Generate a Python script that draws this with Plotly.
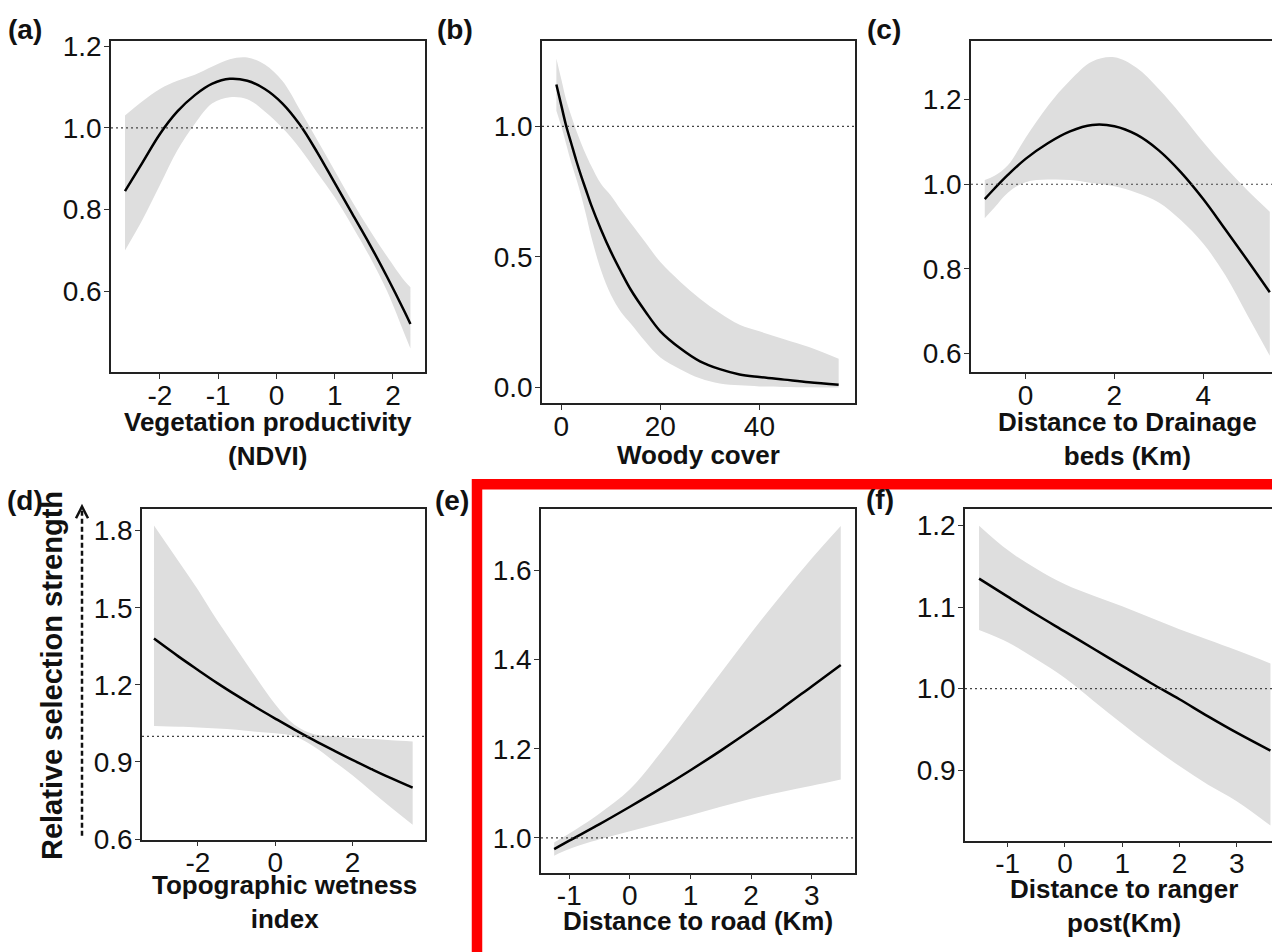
import plotly.graph_objects as go

# ---------------- data ----------------
a_x   = [-2.6, -2.3, -2.0, -1.7, -1.4, -1.1, -0.8, -0.5, -0.2, 0.1, 0.4, 0.7, 1.0, 1.3, 1.6, 1.9, 2.2, 2.3]
a_fit = [0.845, 0.915, 0.985, 1.04, 1.08, 1.108, 1.12, 1.115, 1.095, 1.06, 1.008, 0.94, 0.865, 0.79, 0.715, 0.635, 0.55, 0.52]
a_hi  = [1.03, 1.065, 1.095, 1.115, 1.13, 1.15, 1.168, 1.172, 1.155, 1.115, 1.045, 0.97, 0.895, 0.82, 0.75, 0.685, 0.625, 0.61]
a_lo  = [0.70, 0.775, 0.86, 0.945, 1.01, 1.06, 1.075, 1.07, 1.04, 1.0, 0.95, 0.89, 0.83, 0.76, 0.685, 0.60, 0.495, 0.46]

b_x   = [-1, 0, 1, 2, 3, 4, 5, 6, 8, 10, 12, 14, 17, 20, 24, 28, 32, 36, 40, 45, 50, 56]
b_fit = [1.16, 1.08, 1.0, 0.935, 0.87, 0.81, 0.755, 0.70, 0.605, 0.52, 0.445, 0.375, 0.29, 0.215,
         0.15, 0.10, 0.07, 0.05, 0.04, 0.03, 0.02, 0.01]
b_hi  = [1.26, 1.18, 1.10, 1.04, 0.985, 0.935, 0.89, 0.85, 0.78, 0.735, 0.68, 0.63, 0.555, 0.48,
         0.405, 0.34, 0.285, 0.24, 0.215, 0.185, 0.155, 0.11]
b_lo  = [1.06, 1.0, 0.93, 0.86, 0.80, 0.735, 0.66, 0.58, 0.45, 0.355, 0.29, 0.245, 0.175, 0.115,
         0.07, 0.035, 0.015, 0.008, 0.004, 0.002, 0.001, 0.0]

c_x   = [-0.92, -0.7, -0.4, 0.0, 0.5, 1.0, 1.5, 2.0, 2.5, 3.0, 3.5, 4.0, 4.5, 5.0, 5.5]
c_fit = [0.965, 0.99, 1.022, 1.06, 1.097, 1.125, 1.14, 1.137, 1.117, 1.08, 1.028, 0.965, 0.893, 0.82, 0.745]
c_hi  = [1.01, 1.02, 1.045, 1.11, 1.185, 1.245, 1.29, 1.30, 1.275, 1.225, 1.165, 1.10, 1.04, 0.985, 0.935]
c_lo  = [0.92, 0.945, 0.98, 1.005, 1.011, 1.01, 1.003, 0.995, 0.98, 0.957, 0.915, 0.86, 0.785, 0.69, 0.595]

d_x   = [-3.14, -2.5, -2.0, -1.5, -1.0, -0.5, 0.0, 0.5, 1.0, 1.5, 2.0, 2.5, 3.0, 3.56]
d_fit = [1.38, 1.31, 1.258, 1.207, 1.159, 1.113, 1.069, 1.026, 0.985, 0.946, 0.908, 0.872, 0.837, 0.80]
d_hi  = [1.82, 1.68, 1.57, 1.45, 1.34, 1.23, 1.125, 1.045, 1.008, 1.0, 0.993, 0.989, 0.985, 0.98]
d_lo  = [1.04, 1.037, 1.034, 1.03, 1.025, 1.018, 1.012, 1.0, 0.96, 0.905, 0.848, 0.785, 0.723, 0.656]

e_x   = [-1.25, -1, -0.5, 0, 0.5, 1, 1.5, 2, 2.5, 3, 3.48]
e_fit = [0.975, 0.994, 1.031, 1.07, 1.11, 1.152, 1.196, 1.242, 1.29, 1.34, 1.388]
e_hi  = [0.99, 1.01, 1.055, 1.109, 1.19, 1.28, 1.37, 1.46, 1.545, 1.627, 1.70]
e_lo  = [0.96, 0.975, 0.997, 1.015, 1.033, 1.051, 1.07, 1.088, 1.103, 1.117, 1.131]

f_x   = [-1.5, -1, -0.5, 0, 0.5, 1, 1.5, 2, 2.5, 3, 3.59]
f_fit = [1.135, 1.113, 1.091, 1.07, 1.049, 1.028, 1.007, 0.987, 0.966, 0.946, 0.924]
f_hi  = [1.20, 1.17, 1.147, 1.128, 1.114, 1.101, 1.087, 1.073, 1.06, 1.047, 1.031]
f_lo  = [1.072, 1.057, 1.036, 1.013, 0.985, 0.957, 0.93, 0.905, 0.882, 0.862, 0.832]

labels   = ["(a)", "(b)", "(c)", "(d)", "(e)", "(f)"]
x_titles = ["Vegetation productivity<br>(NDVI)", "Woody cover",
            "Distance to Drainage<br>beds (Km)", "Topographic wetness<br>index",
            "Distance to road (Km)", "Distance to ranger<br>post(Km)"]
y_title  = "Relative selection strength"

x_ticks = [[-2, -1, 0, 1, 2], [0, 20, 40], [0, 2, 4], [-2, 0, 2], [-1, 0, 1, 2, 3], [-1, 0, 1, 2, 3]]
y_ticks = [[0.6, 0.8, 1.0, 1.2], [0.0, 0.5, 1.0], [0.6, 0.8, 1.0, 1.2],
           [0.6, 0.9, 1.2, 1.5, 1.8], [1.0, 1.2, 1.4, 1.6], [0.9, 1.0, 1.1, 1.2]]
x_ranges = [[-2.84, 2.55], [-3.9, 59.3], [-1.23, 5.55], [-3.45, 3.88], [-1.467, 3.715], [-1.746, 3.617]]
y_ranges = [[0.402, 1.212], [-0.061, 1.326], [0.556, 1.338], [0.598, 1.886], [0.922, 1.739], [0.8136, 1.221]]
reference_level = 1.0

series = [(a_x, a_fit, a_hi, a_lo), (b_x, b_fit, b_hi, b_lo), (c_x, c_fit, c_hi, c_lo),
          (d_x, d_fit, d_hi, d_lo), (e_x, e_fit, e_hi, e_lo), (f_x, f_fit, f_hi, f_lo)]

# ---------------- layout geometry (pixels) ----------------
W, H = 1272, 952
boxes = [(111, 425, 32, 372), (542, 855, 32, 404), (971, 1272, 32, 372),
         (142, 425, 512, 852), (541, 855, 512, 886), (965, 1272, 512, 853)]
cut_right = [False, False, True, False, False, True]
label_pos = [(25, 20), (455, 20), (884, 20), (25, 504), (452, 504), (880, 503)]
title_pos = [(268, 441), (698, 457), (1127, 441), (284, 916), (698, 936), (1124, 920)]

def px(x):
    return x / W

def py(y):
    return 1 - y / H

FONT = "Liberation Sans, Arial, sans-serif"
BAND = "#dedede"
TXT = "#111111"

fig = go.Figure()
layout = {}
shapes = []
annotations = []

for i, (xs, fit, hi, lo) in enumerate(series):
    n = "" if i == 0 else str(i + 1)
    xa, ya = "x" + n, "y" + n
    fig.add_trace(go.Scatter(x=xs, y=lo, xaxis=xa, yaxis=ya, mode="lines",
                             line=dict(width=0, color=BAND, shape="spline", smoothing=1.0),
                             showlegend=False, hoverinfo="skip"))
    fig.add_trace(go.Scatter(x=xs, y=hi, xaxis=xa, yaxis=ya, mode="lines", fill="tonexty",
                             fillcolor=BAND,
                             line=dict(width=0, color=BAND, shape="spline", smoothing=1.0),
                             showlegend=False, hoverinfo="skip"))
    fig.add_trace(go.Scatter(x=xs, y=fit, xaxis=xa, yaxis=ya, mode="lines",
                             line=dict(width=2.5, color="black", shape="spline", smoothing=1.0),
                             showlegend=False))
    l, r, t, b = boxes[i]
    common = dict(showgrid=False, zeroline=False, showline=True, linecolor="#222",
                  linewidth=1.5, ticks="outside", ticklen=5, tickwidth=1.2, tickcolor="#333",
                  tickfont=dict(family=FONT, size=28, color=TXT))
    layout["xaxis" + n] = dict(domain=[px(l), px(r)], range=x_ranges[i], anchor=ya,
                               tickvals=x_ticks[i], ticktext=[str(v) for v in x_ticks[i]],
                               mirror=True, ticklabelstandoff=-8, **common)
    layout["yaxis" + n] = dict(domain=[py(b), py(t)], range=y_ranges[i], anchor=xa,
                               tickvals=y_ticks[i], ticktext=["%.1f" % v for v in y_ticks[i]],
                               mirror=not cut_right[i], ticklabelstandoff=-3, **common)
    shapes.append(dict(type="line", xref=xa + " domain", yref=ya, x0=0, x1=1,
                       y0=reference_level, y1=reference_level,
                       line=dict(color="#444", width=1.2, dash="2px,3px"), layer="above"))
    lx, ly = label_pos[i]
    annotations.append(dict(text="<b>%s</b>" % labels[i], x=px(lx), y=py(ly), xref="paper",
                            yref="paper", showarrow=False, xanchor="center", yanchor="middle",
                            font=dict(family=FONT, size=28, color=TXT)))
    tx, ty = title_pos[i]
    annotations.append(dict(text="<b>%s</b>" % x_titles[i], x=px(tx), y=py(ty), xref="paper",
                            yref="paper", showarrow=False, xanchor="center", yanchor="middle",
                            font=dict(family=FONT, size=26, color=TXT)))

# shared y title with dashed arrow
annotations.append(dict(text="<b>%s</b>" % y_title, x=px(52), y=py(684), xref="paper",
                        yref="paper", showarrow=False, textangle=-90, xanchor="center",
                        yanchor="middle", font=dict(family=FONT, size=29, color=TXT)))
shapes.append(dict(type="line", xref="paper", yref="paper", x0=px(82), x1=px(82),
                   y0=py(848), y1=py(512), line=dict(color=TXT, width=2.5, dash="5px,3px")))
shapes.append(dict(type="path", xref="paper", yref="paper",
                   path="M %f %f L %f %f L %f %f" % (px(76), py(522), px(82), py(510), px(88), py(522)),
                   line=dict(color=TXT, width=2.5)))

# red highlight frame around panels (e)-(f)
shapes.append(dict(type="rect", xref="paper", yref="paper", x0=px(477), x1=px(1300),
                   y0=py(487), y1=py(990), line=dict(color="#ff0000", width=10.5),
                   fillcolor="rgba(0,0,0,0)", layer="above"))

fig.update_layout(width=W, height=H, margin=dict(l=0, r=0, t=0, b=0),
                  paper_bgcolor="white", plot_bgcolor="white",
                  shapes=shapes, annotations=annotations, **layout)
fig.write_html("out.html", config={"displayModeBar": False},
               post_script="document.body.style.margin='0';document.body.style.overflow='hidden';")
